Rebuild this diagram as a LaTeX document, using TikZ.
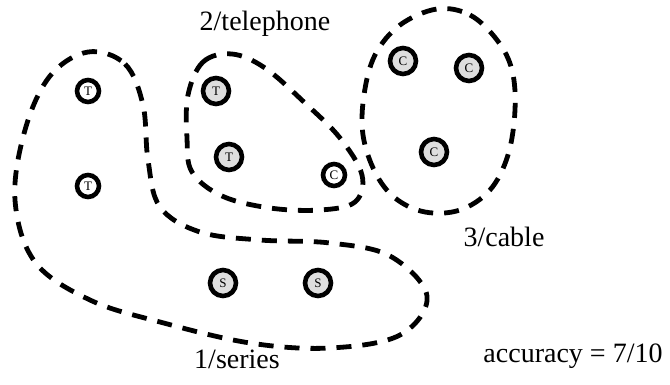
\documentclass[tikz,border=0pt]{standalone}
\usepackage{fontspec}
\setmainfont{Liberation Serif}
\usepackage{tikz}

\begin{document}
\begin{tikzpicture}[x=0.5pt,y=-0.5pt,
  item/.style={shape=circle,draw=black,line width=2.3pt,inner sep=0pt,minimum size=11pt,font=\fontsize{6.5}{7}\selectfont},
  shaded/.style={item,fill=black!13,minimum size=13pt},
  cluster/.style={draw=black,line width=2.4pt,dash pattern=on 7.5pt off 5.5pt},
  tag/.style={anchor=base,font=\fontsize{14}{16}\selectfont}]
\useasboundingbox (0,0) rectangle (670,385);
% objects
\node[item] (T1) at (88,91) {T};
\node[item] (T2) at (88,186) {T};
\node[shaded] (T3) at (216,91) {T};
\node[shaded] (T4) at (229,157) {T};
\node[item] (C1) at (334,175) {C};
\node[shaded] (C2) at (403,61) {C};
\node[shaded] (C3) at (469,68) {C};
\node[shaded] (C4) at (434,152) {C};
\node[shaded] (S1) at (223,283) {S};
\node[shaded] (S2) at (318,283) {S};
% clusters
\draw[cluster] plot[smooth cycle,tension=0.6] coordinates {(88,52) (125,64) (143,105) (148,160) (160,207) (200,232) (260,240) (330,243) (390,256) (427,296) (400,335) (330,348) (250,343) (160,322) (90,300) (35,262) (15,200) (25,130) (50,76)};
\draw[cluster] plot[smooth cycle,tension=0.6] coordinates {(188,95) (203,62) (232,54) (265,68) (305,103) (340,138) (362,175) (355,202) (320,210) (270,208) (222,196) (192,172) (187,138)};
\draw[cluster] plot[smooth cycle,tension=0.6] coordinates {(437,9) (470,15) (497,40) (512,70) (515,110) (508,155) (490,190) (460,210) (425,212) (395,198) (375,172) (363,135) (364,95) (375,55) (400,25)};
% labels
\node[tag] (L2) at (265,31) {2/telephone};
\node[tag] (L3) at (504,247) {3/cable};
\node[tag] (L1) at (237,368) {1/series};
\node[tag] (acc) at (573,362) {accuracy = 7/10};
\end{tikzpicture}
\end{document}
